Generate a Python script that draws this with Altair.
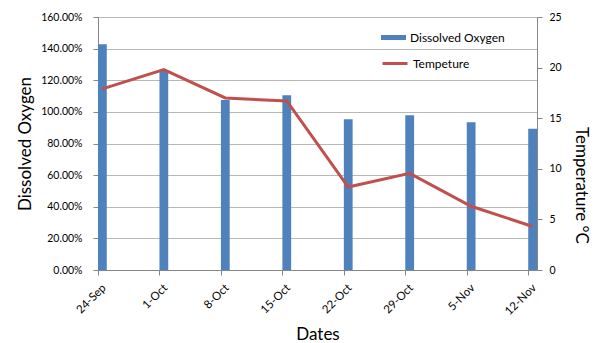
import altair as alt
import pandas as pd

dates = ["24-Sep", "1-Oct", "8-Oct", "15-Oct", "22-Oct", "29-Oct", "5-Nov", "12-Nov"]
days = [0, 7, 14, 21, 28, 35, 42, 49]
oxygen = [1.428, 1.265, 1.075, 1.105, 0.953, 0.978, 0.934, 0.894]
temperature = [17.9, 19.8, 17.0, 16.7, 8.2, 9.55, 6.3, 4.3]
y_left_ticks = [0, 0.2, 0.4, 0.6, 0.8, 1.0, 1.2, 1.4, 1.6]
y_right_ticks = [0, 5, 10, 15, 20, 25]

df = pd.DataFrame({
    "date": dates,
    "day": days,
    "oxygen": oxygen,
    "temp": temperature,
    "s1": ["Dissolved Oxygen"] * len(dates),
    "s2": ["Tempeture"] * len(dates),
})

FONT = "Lato"
label_arr = "[" + ",".join("'" + d + "'" for d in dates) + "]"

x_scale = alt.Scale(domain=[0, 50], nice=False, zero=False)
x_axis = alt.Axis(
    values=days,
    labelExpr=label_arr + "[datum.value/7]",
    labelAngle=315,
    labelAlign="right",
    labelBaseline="middle",
    labelPadding=11,
    labelOffset=6,
    labelFont=FONT,
    labelFontSize=11.5,
    labelColor="#000000",
    tickSize=5,
    tickColor="#868686",
    domainColor="#868686",
    grid=False,
    title="Dates",
    titleFont=FONT,
    titleFontSize=17,
    titleFontWeight="normal",
    titleColor="#000000",
    titleX=219.5,
    titleY=69,
    titleBaseline="alphabetic",
    titleAlign="center",
)

bars = alt.Chart(df).mark_bar(color="#4F81BD").transform_calculate(
    day_end="datum.day + 1"
).encode(
    x=alt.X("day:Q", scale=x_scale, axis=x_axis),
    x2="day_end:Q",
    y=alt.Y(
        "oxygen:Q",
        scale=alt.Scale(domain=[0, 1.6], nice=False),
        axis=alt.Axis(
            values=y_left_ticks,
            format=".2%",
            grid=True,
            gridColor="#b8b8b8",
            domainColor="#868686",
            tickColor="#868686",
            tickSize=5,
            labelPadding=11,
            labelFont=FONT,
            labelFontSize=10.5,
            labelColor="#000000",
            title="Dissolved Oxygen",
            titleFont=FONT,
            titleFontSize=17,
            titleFontWeight="normal",
            titleColor="#000000",
            titleAngle=270,
            titleX=-73,
            titleY=126.5,
            titleBaseline="middle",
            titleAlign="center",
        ),
    ),
    y2=alt.datum(0),
    color=alt.Color(
        "s1:N",
        scale=alt.Scale(domain=["Dissolved Oxygen"], range=["#4F81BD"]),
        legend=alt.Legend(
            title=None,
            orient="none",
            legendX=283,
            legendY=8,
            padding=0,
            symbolType="M-1,-0.2H1V0.2H-1Z",
            symbolSize=625,
            symbolStrokeWidth=0,
            labelFont=FONT,
            labelFontSize=12,
            labelColor="#000000",
            labelOffset=4,
        ),
    ),
)

line = alt.Chart(df).mark_line(strokeWidth=3).transform_calculate(
    mid="datum.day + 0.5"
).encode(
    x=alt.X("mid:Q", scale=x_scale),
    y=alt.Y(
        "temp:Q",
        scale=alt.Scale(domain=[0, 25], nice=False),
        axis=alt.Axis(
            orient="right",
            values=y_right_ticks,
            grid=False,
            domainColor="#868686",
            tickColor="#868686",
            tickSize=5,
            labelPadding=7,
            labelFont=FONT,
            labelFontSize=10.5,
            labelColor="#000000",
            title="Temperature °C",
            titleFont=FONT,
            titleFontSize=17,
            titleFontWeight="normal",
            titleColor="#000000",
            titleAngle=90,
            titleX=43,
            titleY=168,
            titleBaseline="middle",
            titleAlign="center",
        ),
    ),
    stroke=alt.Stroke(
        "s2:N",
        scale=alt.Scale(domain=["Tempeture"], range=["#C0504D"]),
        legend=alt.Legend(
            title=None,
            orient="none",
            legendX=283,
            legendY=32.5,
            padding=0,
            symbolType="stroke",
            symbolSize=625,
            symbolStrokeWidth=3,
            labelFont=FONT,
            labelFontSize=12,
            labelColor="#000000",
            labelOffset=4,
        ),
    ),
)

chart = alt.layer(bars, line).resolve_scale(
    y="independent", color="independent", stroke="independent"
).properties(
    width=439,
    height=253,
    autosize=alt.AutoSizeParams(type="none"),
    padding={"left": 90, "top": 9, "right": 60, "bottom": 73},
    background="white",
).configure_view(strokeWidth=0)

chart.save("out.html", embed_options={"renderer": "svg", "actions": False})
